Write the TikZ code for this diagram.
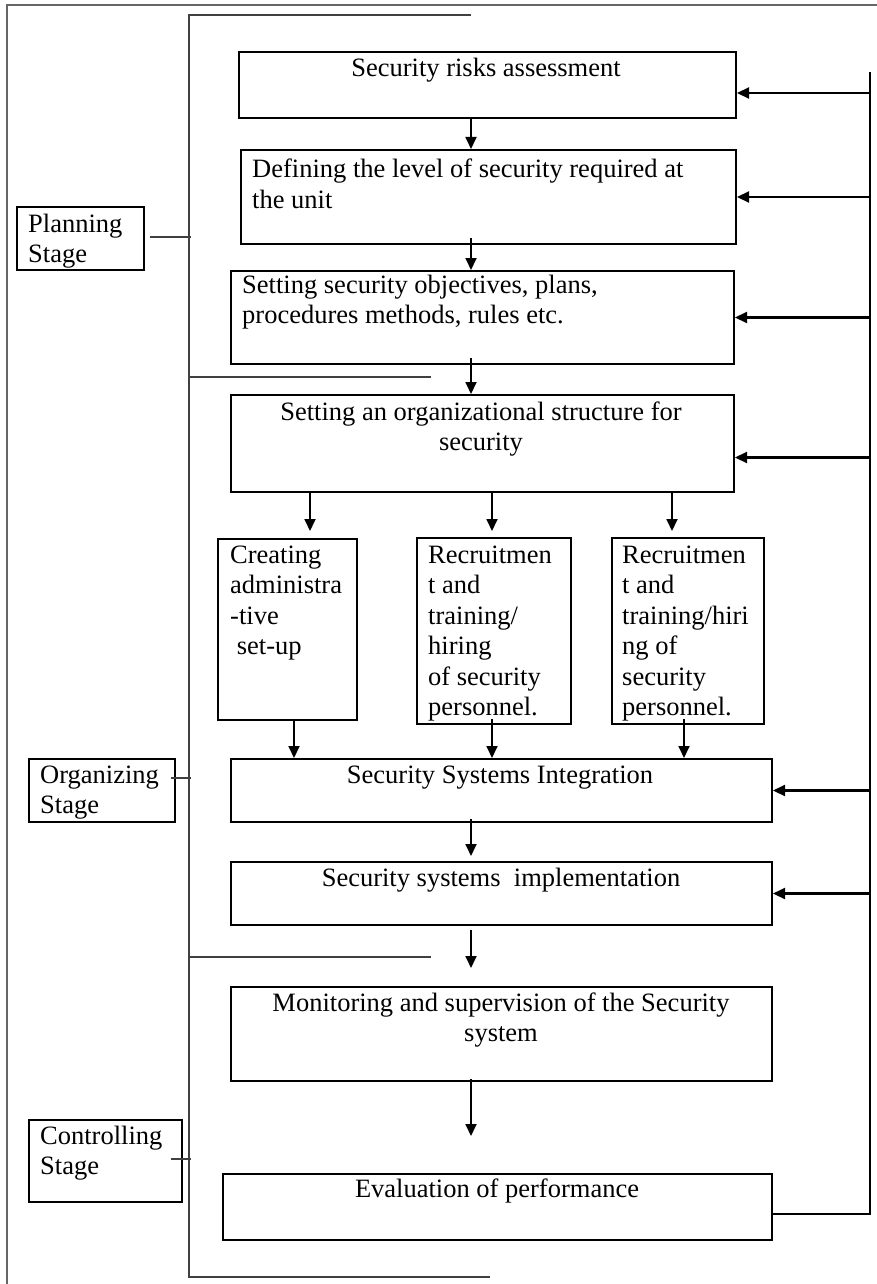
\documentclass[tikz,border=0pt]{standalone}
\usepackage{fontspec}
\setmainfont{Liberation Serif}
\usetikzlibrary{arrows.meta,calc}
\newcommand{\blkL}[1]{\begin{tabular}[t]{@{}l@{}}#1\end{tabular}}
\newcommand{\blkC}[1]{\begin{tabular}[t]{@{}c@{}}#1\end{tabular}}
\begin{document}
\begin{tikzpicture}[x=1pt,y=-1pt,
  font=\fontsize{26.5}{30.5}\selectfont,
  box/.style={draw,line width=2pt,inner sep=0pt,anchor=north west},
  txt/.style={inner sep=0pt,anchor=base},
  txtL/.style={inner sep=0pt,anchor=base west},
  arr/.style={line width=1.8pt,-{Triangle[length=12pt,width=11pt]}},
  fbarr/.style={line width=2.2pt,-{Triangle[length=12pt,width=11pt]}},
  fbline/.style={line width=2.2pt},
  brk/.style={line width=1.3pt,draw=black!75},
  outer/.style={line width=1.5pt,draw=black!60}]
\useasboundingbox[fill=white] (0,0) rectangle (877,1284);
% outer border
\draw[outer] (7,1284) -- (7,5) -- (877,5);
% helper coordinates
\coordinate (brx) at (189,0);
\coordinate (cx) at (471,0);
\coordinate (ca) at (310,0);
\coordinate (cb) at (492,0);
\coordinate (cc) at (672,0);
\coordinate (da) at (294,0);
\coordinate (dc) at (684,0);
\coordinate (fbT) at (870,76);
\coordinate (fbB) at (870,1214);
% boxes
\node[box,minimum width=497pt,minimum height=66pt] (b1) at (238,51) {};
\node[box,minimum width=495pt,minimum height=94pt] (b2) at (240,149) {};
\node[box,minimum width=503pt,minimum height=93pt] (b3) at (230,270) {};
\node[box,minimum width=503pt,minimum height=97pt] (b4) at (230,394) {};
\node[box,minimum width=139pt,minimum height=181pt] (sA) at (217,538) {};
\node[box,minimum width=154pt,minimum height=186pt] (sB) at (416,537) {};
\node[box,minimum width=152pt,minimum height=186pt] (sC) at (611,537) {};
\node[box,minimum width=541pt,minimum height=63pt] (b5) at (230,758) {};
\node[box,minimum width=541pt,minimum height=63pt] (b6) at (230,861) {};
\node[box,minimum width=541pt,minimum height=94pt] (b7) at (230,986) {};
\node[box,minimum width=549pt,minimum height=66pt] (b8) at (222,1173) {};
\node[box,minimum width=127pt,minimum height=63pt] (pl) at (16,206) {};
\node[box,minimum width=146pt,minimum height=63pt] (org) at (28,758) {};
\node[box,minimum width=153pt,minimum height=82pt] (ctl) at (28,1119) {};
% texts
\node[txt] (b1t) at (486,77) {Security risks assessment};
\node[txtL] (b2t) at (252,178) {\blkL{Defining the level of security required at\\the unit}};
\node[txtL] (b3t) at (242,293) {\blkL{Setting security objectives, plans,\\procedures methods, rules etc.}};
\node[txt] (b4t) at (481,420) {\blkC{Setting an organizational structure for\\security}};
\node[txtL] (sAt) at (230,563) {\blkL{Creating\\administra\\-tive\\\ set-up}};
\node[txtL] (sBt) at (428,563) {\blkL{Recruitmen\\t and\\training/\\hiring\\of security\\personnel.}};
\node[txtL] (sCt) at (622,563) {\blkL{Recruitmen\\t and\\training/hiri\\ng of\\security\\personnel.}};
\node[txt] (b5t) at (500,783) {Security Systems Integration};
\node[txt] (b6t) at (501,886) {Security systems\ \ implementation};
\node[txt] (b7t) at (501,1011) {\blkC{Monitoring and supervision of the Security\\system}};
\node[txt] (b8t) at (497,1197) {Evaluation of performance};
\node[txtL] (plt) at (28,232) {\blkL{Planning\\Stage}};
\node[txtL] (orgt) at (40,783) {\blkL{Organizing\\Stage}};
\node[txtL] (ctlt) at (40,1144) {\blkL{Controlling\\Stage}};
% bracket
\draw[brk] (471,15) -- (189,15) -- (189,1277) -- (490,1277);
\draw[brk] (189,377) -- (431,377);
\draw[brk] (189,957) -- (431,957);
\draw[brk] (pl.east) ++(5,-1.5) -- ++(41,0);
\draw[brk] (org.east) ++(-5,-12.5) -- ++(20,0);
\draw[brk] (ctl.east) ++(-12,-2) -- ++(20,0);
% vertical arrows
\draw[arr] (b1.south -| cx) ++(0,-2) -- (b2.north -| cx);
\draw[arr] (b2.south -| cx) ++(0,-7) -- (b3.north -| cx);
\draw[arr] (b3.south -| cx) ++(0,-7) -- (b4.north -| cx);
\draw[arr] (b4.south -| ca) -- ($(sA.north -| ca)+(0,-7)$);
\draw[arr] (b4.south -| cb) -- ($(sB.north -| cb)+(0,-6)$);
\draw[arr] (b4.south -| cc) -- ($(sC.north -| cc)+(0,-6)$);
\draw[arr] (sA.south -| da) ++(0,-2) -- (b5.north -| da);
\draw[arr] (sB.south -| cb) ++(0,-6) -- (b5.north -| cb);
\draw[arr] (sC.south -| dc) ++(0,-6) -- (b5.north -| dc);
\draw[arr] (b5.south -| cx) ++(0,-4) -- ($(b6.north -| cx)+(0,-5)$);
\draw[arr] (b6.south -| cx) ++(0,4) -- ($(b7.north -| cx)+(0,-18)$);
\draw[arr] (b7.south -| cx) ++(0,-3) -- ($(b8.north -| cx)+(0,-37)$);
% feedback loop
\draw[fbline] (b8.east |- fbB) -- (fbB) -- ($(fbT)+(0,-4)$);
\coordinate (f1) at ([yshift=-8pt]b1.east);
\coordinate (f4) at ([yshift=-14pt]b4.east);
\draw[fbarr] (f1 -| fbT) -- (f1);
\draw[fbarr] (b2.east -| fbT) -- (b2.east);
\draw[fbarr] (b3.east -| fbT) -- (b3.east);
\draw[fbarr] (f4 -| fbT) -- (f4);
\draw[fbarr] (b5.east -| fbT) -- (b5.east);
\draw[fbarr] (b6.east -| fbT) -- (b6.east);
\end{tikzpicture}
\end{document}
